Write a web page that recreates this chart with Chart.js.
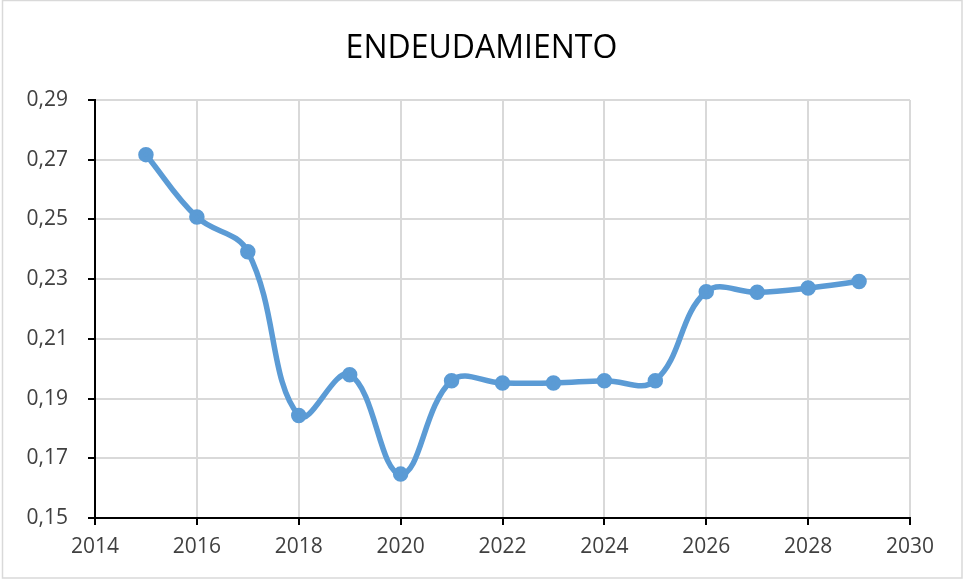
<!DOCTYPE html>
<html>
<head>
<meta charset="utf-8">
<script src="https://cdn.jsdelivr.net/npm/chart.js@4.4.1/dist/chart.umd.min.js"></script>
<style>
  html, body { margin: 0; padding: 0; background: #ffffff; }
  #wrap { width: 963px; height: 580px; position: relative; }
</style>
</head>
<body>
<div id="wrap"><canvas id="grafico" width="963" height="580"></canvas></div>
<script>
// datos
var anios = [2015, 2016, 2017, 2018, 2019, 2020, 2021, 2022, 2023, 2024, 2025, 2026, 2027, 2028, 2029];
var endeudamiento = [0.2717, 0.2508, 0.2392, 0.1843, 0.1980, 0.1647, 0.1960, 0.1952, 0.1952, 0.1960, 0.1960, 0.2258, 0.2256, 0.2270, 0.2292];
var titulo = 'ENDEUDAMIENTO';
var ejeX = { min: 2014, max: 2030, paso: 2 };
var ejeY = { min: 0.15, max: 0.29, paso: 0.02 };

var fuente = "'Open Sans', 'Noto Sans', sans-serif";

// marco gris exterior como en Excel, y titulo centrado en todo el ancho
var marco = {
    id: 'marco',
    afterLayout: function(chart) {
        var t = chart.titleBlock;
        if (t) {
            t.left = 0;
            t.right = chart.width;
            t.width = chart.width;
        }
    },
    beforeDraw: function(chart) {
        var ctx = chart.ctx;
        ctx.save();
        ctx.fillStyle = '#ffffff';
        ctx.fillRect(0, 0, chart.width, chart.height);
        ctx.strokeStyle = '#d9d9d9';
        ctx.lineWidth = 1.5;
        ctx.strokeRect(2.5, 0.5, chart.width - 3.5, chart.height - 2.5);
        ctx.restore();
    }
};

var puntos = anios.map(function(a, i) {
    return { x: a, y: endeudamiento[i] };
});

new Chart(document.getElementById('grafico'), {
    type: 'scatter',
    data: {
        datasets: [{
            label: titulo,
            data: puntos,
            showLine: true,
            borderColor: '#5b9bd5',
            backgroundColor: '#5b9bd5',
            borderWidth: 5.5,
            pointRadius: 5,
            pointHoverRadius: 5,
            tension: 0.4,
            borderCapStyle: 'round',
            borderJoinStyle: 'round'
        }]
    },
    options: {
        responsive: false,
        animation: false,
        devicePixelRatio: 1,
        layout: { padding: { left: 0, right: 53, top: 0, bottom: 0 } },
        plugins: {
            legend: { display: false },
            tooltip: { enabled: false },
            title: {
                display: true,
                text: titulo,
                color: '#000000',
                font: { family: fuente, size: 32, weight: 'normal', lineHeight: 1.2 },
                padding: { top: 30, bottom: 31.6 }
            }
        },
        scales: {
            x: {
                type: 'linear',
                min: ejeX.min,
                max: ejeX.max,
                afterFit: function(s) { s.height = 62; },
                grid: { color: '#d9d9d9', lineWidth: 2, tickColor: '#000000', tickLength: 7, tickWidth: 2 },
                border: { color: '#000000', width: 2 },
                ticks: {
                    stepSize: ejeX.paso,
                    color: '#404040',
                    padding: 9,
                    maxRotation: 0,
                    font: { family: fuente, size: 21 },
                    callback: function(v) { return String(v); }
                }
            },
            y: {
                min: ejeY.min,
                max: ejeY.max,
                afterFit: function(s) { s.width = 95; },
                grid: { color: '#d9d9d9', lineWidth: 2, tickColor: '#000000', tickLength: 7, tickWidth: 2 },
                border: { color: '#000000', width: 2 },
                ticks: {
                    stepSize: ejeY.paso,
                    color: '#404040',
                    padding: 20,
                    font: { family: fuente, size: 21 },
                    callback: function(v) { return v.toFixed(2).replace('.', ','); }
                }
            }
        }
    },
    plugins: [marco]
});
</script>
</body>
</html>
